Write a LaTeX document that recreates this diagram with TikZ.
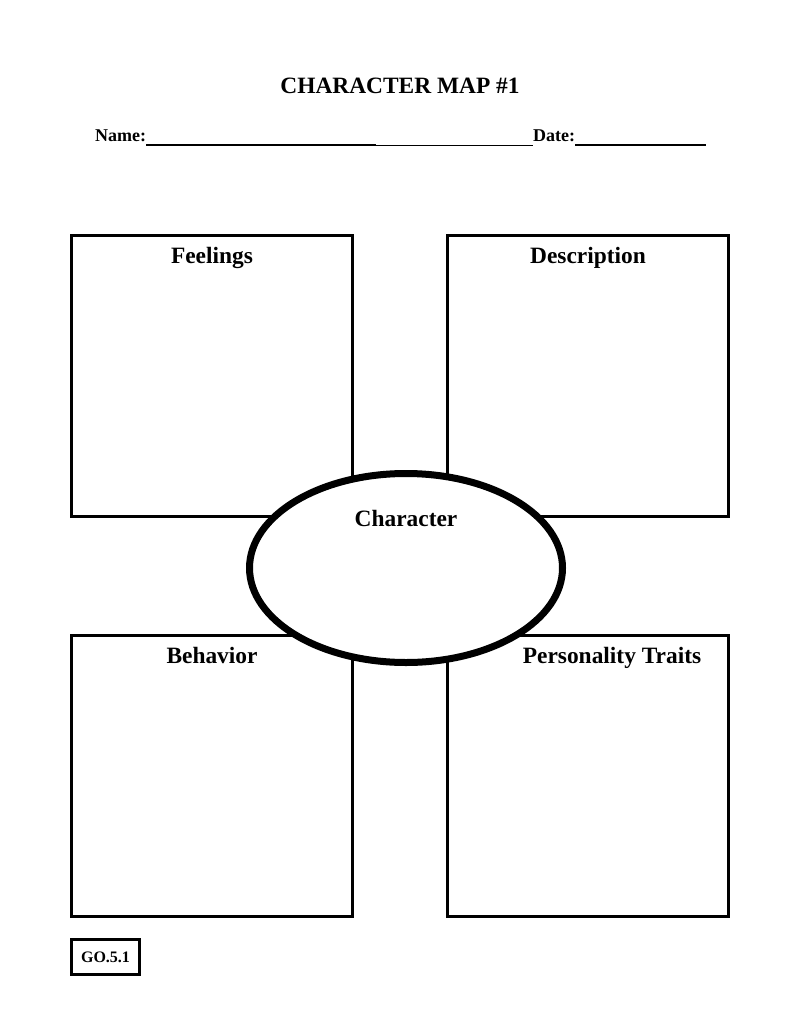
\documentclass[tikz,border=0pt]{standalone}
\usepackage{fontspec}
\setmainfont{Liberation Serif}
\usetikzlibrary{positioning, shapes.geometric}

\begin{document}
\begin{tikzpicture}[
        x=1pt, y=1pt,
        every node/.style={font=\bfseries\fontsize{23.4}{28}\selectfont},
        panel/.style={draw, line width=3pt, minimum width=281pt, minimum height=281pt, inner sep=0pt},
        hub/.style={ellipse, draw, line width=7pt, fill=white, minimum width=313pt, minimum height=189pt, inner sep=0pt},
        small/.style={font=\bfseries\fontsize{18}{22}\selectfont, inner sep=0pt},
        heading/.style={anchor=base, inner sep=0pt},
        tag/.style={draw, line width=3pt, minimum width=68pt, minimum height=35pt, inner sep=0pt, font=\bfseries\fontsize{16}{19}\selectfont}
    ]
        \useasboundingbox (0,0) rectangle (800,-1035);
        % heading
        \node[anchor=base] (title) at (400,-94) {CHARACTER MAP \#1};
        \node[small, anchor=base west] (name) at (95,-142) {Name:};
        \node[small, anchor=base west] (date) at (533,-142) {Date:};
        \coordinate (gap) at (376,-145);
        \coordinate (dateend) at (706,-145);
        \draw[line width=1.3pt] (name.east |- gap) -- (gap);
        \draw[line width=1.8pt] ([yshift=-0.5pt]gap) -- ([yshift=-0.5pt]date.west |- gap);
        \draw[line width=1.5pt] (date.east |- dateend) -- (dateend);
        % four panels
        \node[panel] (feel) at (212,-376) {};
        \node[panel] (desc) at (588,-376) {};
        \node[panel] (behav) at (212,-776) {};
        \node[panel] (trait) at (588,-776) {};
        \node[heading] at ([yshift=-29pt]feel.north) {Feelings};
        \node[heading] at ([yshift=-29pt]desc.north) {Description};
        \node[heading] at ([yshift=-29pt]behav.north) {Behavior};
        \node[heading] at ([xshift=24pt, yshift=-29pt]trait.north) {Personality Traits};
        % centre
        \node[hub] (char) at (406,-568) {};
        \node[heading] at ([yshift=42pt]char.center) {Character};
        % footer
        \node[tag] (code) at (105.5,-957) {GO.5.1};
    \end{tikzpicture}
\end{document}
